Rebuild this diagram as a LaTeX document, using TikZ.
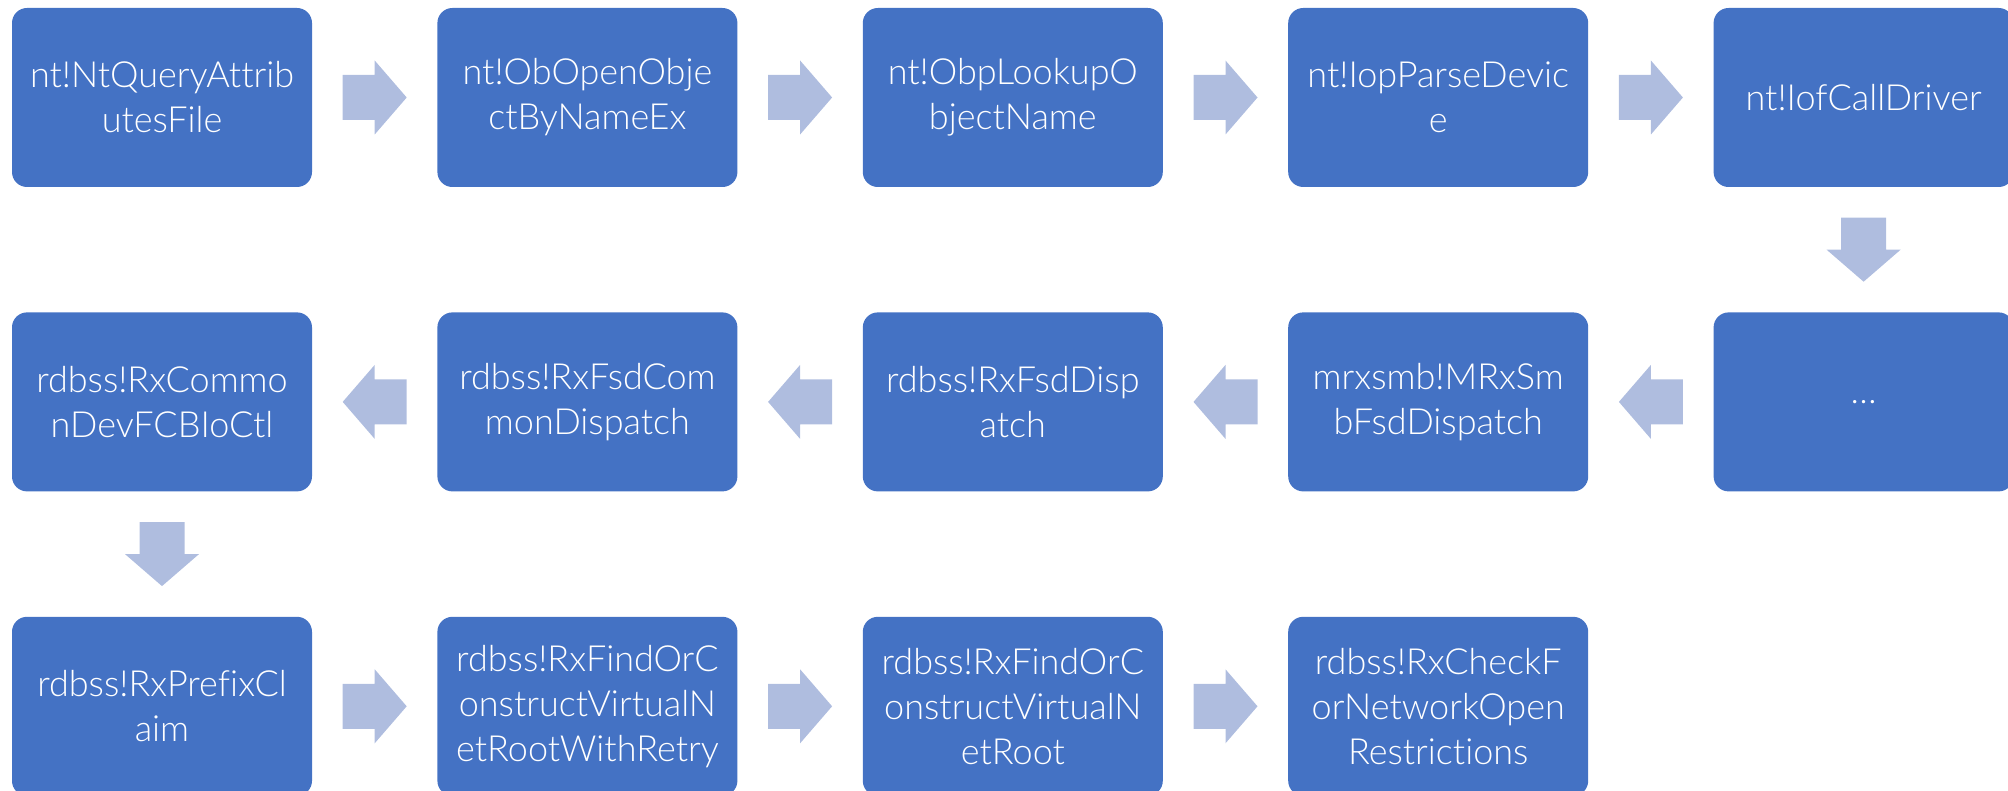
\documentclass[tikz,border=0pt]{standalone}
\usepackage{fontspec}
\setmainfont{Lato Light}[Ligatures=CommonOff]
\usetikzlibrary{positioning, calc}
\definecolor{boxblue}{HTML}{4472C4}
\definecolor{flowblue}{HTML}{AFBDDF}

\begin{document}
\begin{tikzpicture}[
  x=1pt, y=-1pt,
  node distance=125pt and 125pt,
  fn/.style={fill=boxblue, rounded corners=15pt, text=white, align=center, minimum width=300pt, minimum height=179pt, inner sep=0pt, font=\fontsize{36}{45}\selectfont},
  flowarrow/.pic={\fill[flowblue] (-32,-22.5) -- (0,-22.5) -- (0,-37) -- (32,0) -- (0,37) -- (0,22.5) -- (-32,22.5) -- cycle;}
]
\clip (0,0) rectangle (2008,791);
% top row, left to right
\node[fn] (query) at (162,97.5) {nt!NtQueryAttrib\\utesFile};
\node[fn, right=of query] (openobj) {nt!ObOpenObje\\ctByNameEx};
\node[fn, right=of openobj] (lookup) {nt!ObpLookupO\\bjectName};
\node[fn, right=of lookup] (parsedev) {nt!IopParseDevic\\e};
\node[fn, right=of parsedev] (calldrv) {nt!IofCallDriver};
% middle row, right to left
\node[fn, below=of calldrv] (elided) {\dots};
\node[fn, left=of elided] (mrxfsd) {mrxsmb!MRxSm\\bFsdDispatch};
\node[fn, left=of mrxfsd] (fsddisp) {rdbss!RxFsdDisp\\atch};
\node[fn, left=of fsddisp] (fsdcommon) {rdbss!RxFsdCom\\monDispatch};
\node[fn, left=of fsdcommon] (devfcb) {rdbss!RxCommo\\nDevFCBIoCtl};
% bottom row, left to right
\node[fn, below=of devfcb] (prefix) {rdbss!RxPrefixCl\\aim};
\node[fn, right=of prefix] (vnetretry) {rdbss!RxFindOrC\\onstructVirtualN\\etRootWithRetry};
\node[fn, right=of vnetretry] (vnetroot) {rdbss!RxFindOrC\\onstructVirtualN\\etRoot};
\node[fn, right=of vnetroot] (netopen) {rdbss!RxCheckF\\orNetworkOpen\\Restrictions};

% block arrows between the boxes
\foreach \from/\to/\rot in {query/openobj/0, openobj/lookup/0, lookup/parsedev/0, parsedev/calldrv/0,
    calldrv/elided/270, elided/mrxfsd/180, mrxfsd/fsddisp/180, fsddisp/fsdcommon/180, fsdcommon/devfcb/180,
    devfcb/prefix/270, prefix/vnetretry/0, vnetretry/vnetroot/0, vnetroot/netopen/0}
  \pic[rotate=\rot] (\from-\to) at ($(\from)!0.5!(\to)$) {flowarrow};
\end{tikzpicture}
\end{document}
